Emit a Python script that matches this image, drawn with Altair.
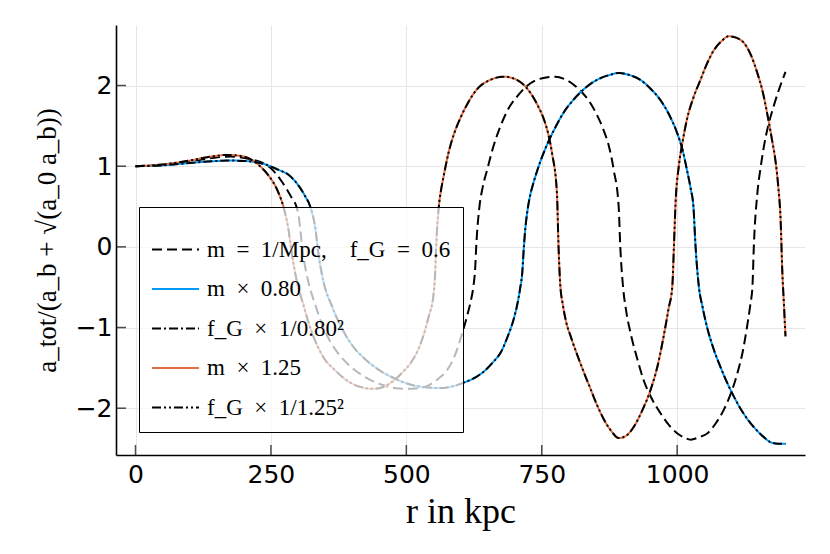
import altair as alt
import pandas as pd

# ---- data ----
r_A = [0, 50, 100, 140, 175, 210, 235, 249, 270, 289, 298, 302, 305, 307.5, 310, 319, 332, 345, 360, 379, 400, 428,
       455, 478, 502, 525, 540, 558, 576, 590, 600, 612, 618, 624, 627, 629, 635, 641, 649, 661, 674, 690, 704, 722, 741,
       758, 775, 792, 809, 825, 840, 853, 864, 875, 883, 892, 895, 900, 906, 914, 926, 938, 953, 969, 985,
       1000, 1012, 1025, 1040, 1056, 1071, 1086, 1099, 1111, 1121, 1129, 1135, 1139, 1141.5, 1148, 1154, 1160, 1168, 1178, 1188,
       1200]
y_A = [1.00, 1.02, 1.06, 1.10, 1.12, 1.09, 1.04, 0.98, 0.81, 0.60, 0.48, 0.34, 0.17, 0.0, -0.12, -0.43, -0.72, -0.97, -1.18, -1.36, -1.50, -1.63,
       -1.71, -1.75, -1.76, -1.75, -1.72, -1.64, -1.52, -1.34, -1.14, -0.86, -0.70, -0.48, -0.28, 0.0, 0.50, 0.74, 0.95, 1.25, 1.50, 1.73, 1.86, 1.99, 2.07,
       2.10, 2.11, 2.08, 2.01, 1.91, 1.78, 1.62, 1.45, 1.22, 0.95, 0.50, 0.0, -0.49, -0.80, -1.07, -1.38, -1.65, -1.88, -2.06, -2.21,
       -2.31, -2.36, -2.39, -2.36, -2.31, -2.19, -2.02, -1.82, -1.57, -1.30, -0.99, -0.72, -0.49, 0.0, 0.66, 0.98, 1.24, 1.50, 1.74, 1.95,
       2.17]

r_B = [0, 50, 100, 140, 175, 210, 245, 262, 283, 302, 313, 322.5, 332, 338, 347, 363, 378, 400, 422,
       446, 478, 509, 536, 563, 590, 607, 627, 644, 660, 675, 686, 698, 704, 710, 714, 717, 720, 723, 729,
       735, 747, 760, 775, 790, 808, 827, 842, 858, 875, 892, 912, 932, 951, 969, 985, 1000, 1010, 1018, 1025,
       1030, 1034, 1040, 1047, 1055, 1067, 1080, 1092, 1105, 1122, 1141, 1157, 1172, 1186, 1200]
y_B = [1.00, 1.01, 1.04, 1.06, 1.07, 1.06, 1.01, 0.96, 0.89, 0.75, 0.63, 0.50, 0.23, -0.10, -0.43, -0.74, -0.97, -1.22, -1.38,
       -1.51, -1.63, -1.71, -1.74, -1.75, -1.72, -1.68, -1.62, -1.54, -1.43, -1.30, -1.13, -0.90, -0.74, -0.52, -0.32, 0.0, 0.25, 0.42, 0.65,
       0.80, 1.05, 1.27, 1.48, 1.66, 1.82, 1.95, 2.03, 2.09, 2.13, 2.155, 2.13, 2.07, 1.96, 1.82, 1.64, 1.41, 1.20, 0.955, 0.72,
       0.50, 0.0, -0.49, -0.75, -0.99, -1.26, -1.49, -1.68, -1.86, -2.06, -2.23, -2.34, -2.42, -2.44, -2.44]

r_C = [0, 50, 100, 140, 170, 200, 221, 233, 245, 264, 273, 282, 289, 298, 310, 320, 336, 350, 367, 385,
       404, 424, 441, 460, 478, 495, 508, 522, 532, 541, 550, 553, 555, 560, 564, 569, 578, 588, 600, 615, 630, 655, 680,
       704, 729, 742, 754, 762, 769, 778, 781, 784, 789, 794, 805, 815, 828, 840, 852, 864, 878, 892, 906, 920,
       936, 951, 964, 975, 984, 991, 994, 997, 1003, 1010, 1018, 1030, 1043, 1055, 1068, 1082, 1095, 1110, 1123, 1136,
       1148, 1158, 1166, 1175, 1182, 1187, 1191, 1194, 1197, 1200]
y_C = [1.00, 1.02, 1.07, 1.12, 1.14, 1.12, 1.05, 0.98, 0.89, 0.67, 0.50, 0.23, -0.10, -0.43, -0.72, -0.95, -1.23, -1.40, -1.52, -1.63,
       -1.71, -1.75, -1.76, -1.73, -1.65, -1.54, -1.44, -1.27, -1.09, -0.87, -0.60, -0.35, 0.0, 0.50, 0.70, 0.88, 1.17, 1.40, 1.60, 1.80, 1.95, 2.07, 2.11,
       2.07, 1.91, 1.76, 1.58, 1.40, 1.16, 0.67, 0.0, -0.45, -0.72, -0.90, -1.14, -1.33, -1.56, -1.76, -1.96, -2.13, -2.28, -2.37, -2.34, -2.23,
       -2.02, -1.77, -1.47, -1.11, -0.77, -0.49, 0.0, 0.54, 1.00, 1.30, 1.58, 1.85, 2.07, 2.27, 2.44, 2.55, 2.61, 2.59, 2.53, 2.38,
       2.155, 1.92, 1.66, 1.33, 1.04, 0.72, 0.33, -0.29, -0.70, -1.11]

SP = "\u2002"  # en space (does not collapse in SVG)
labels = [f"m{SP}={SP}1/Mpc,{SP}{SP}f_G{SP}={SP}0.6", f"m{SP}\u00d7{SP}0.80", f"f_G{SP}\u00d7{SP}1/0.80\u00b2",
          f"m{SP}\u00d7{SP}1.25", f"f_G{SP}\u00d7{SP}1/1.25\u00b2"]
colors = ["black", "#009AFA", "black", "#E36F47", "black"]
dashes = [[10, 5], [1, 0], [9, 3, 2, 3], [1, 0], [9, 3, 2, 3, 2, 3]]

x_ticks = [0, 250, 500, 750, 1000]
y_ticks = [-2, -1, 0, 1, 2]
x_dom = [-36, 1236]
y_dom = [-2.58, 2.75]

# ---- long table ----
parts = []
for lab, rr, yy in [(labels[0], r_A, y_A), (labels[1], r_B, y_B), (labels[2], r_B, y_B),
                    (labels[3], r_C, y_C), (labels[4], r_C, y_C)]:
    assert len(rr) == len(yy)
    parts.append(pd.DataFrame({"r": rr, "y": yy, "s": lab}))
df = pd.concat(parts, ignore_index=True)

xscale = alt.Scale(domain=x_dom, nice=False, zero=False)
yscale = alt.Scale(domain=y_dom, nice=False, zero=False)

legend = alt.Legend(
    title=" ", titleFontSize=3, titlePadding=3,
    orient="none", legendX=23, legendY=182,
    symbolType="stroke", symbolSize=2209, symbolStrokeWidth=2,
    labelFont="Liberation Serif", labelFontSize=23, labelLimit=500,
    labelColor="black", labelOffset=7,
    padding=12, rowPadding=2.5,
    fillColor="rgba(255,255,255,0.72)", strokeColor="black",
)

xenc = alt.X("r:Q", scale=xscale,
             axis=alt.Axis(values=x_ticks, title="r in kpc", grid=True, ticks=False,
                           labelFlush=False, format="d"))
yenc = alt.Y("y:Q", scale=yscale,
             axis=alt.Axis(values=y_ticks, title="a_tot/(a_b + \u221a(a_0 a_b))", grid=True,
                           ticks=False, labelFlush=False, format="d"))
cenc = alt.Color("s:N", scale=alt.Scale(domain=labels, range=colors), legend=legend)
denc = alt.StrokeDash("s:N", scale=alt.Scale(domain=labels, range=dashes), legend=legend)

base = alt.Chart(df).mark_line(strokeWidth=2, interpolate="monotone").encode(
    x=xenc, y=yenc, color=cenc, strokeDash=denc, detail="s:N")

l1 = base.transform_filter(alt.FieldOneOfPredicate(field="s", oneOf=[labels[0]]))
l2 = base.transform_filter(alt.FieldOneOfPredicate(field="s", oneOf=[labels[1], labels[3]]))
l3 = base.transform_filter(alt.FieldOneOfPredicate(field="s", oneOf=[labels[2], labels[4]]))

xt = alt.Chart(pd.DataFrame({"t": x_ticks})).mark_tick(
    orient="vertical", size=20, thickness=1.5, color="black", clip=True).encode(
    x=alt.X("t:Q", scale=xscale), y=alt.datum(y_dom[0]))
yt = alt.Chart(pd.DataFrame({"t": y_ticks})).mark_tick(
    orient="horizontal", size=20, thickness=1.5, color="black", clip=True).encode(
    y=alt.Y("t:Q", scale=yscale), x=alt.datum(x_dom[0]))

chart = alt.layer(l1, l2, l3, xt, yt).properties(
    width=689, height=430,
    autosize=alt.AutoSizeParams(type="none"),
    padding={"left": 108, "top": 17, "right": 17, "bottom": 91},
).configure_view(stroke=None).configure_axis(
    domainColor="black", domainWidth=1.6,
    gridColor="#e6e6e6", gridWidth=1,
    labelFont="DejaVu Sans", labelFontSize=25, labelColor="black",
    titleFont="Liberation Serif", titleFontWeight="normal", titleColor="black",
).configure_axisX(labelPadding=7, titlePadding=7, titleFontSize=36).configure_axisY(
    labelPadding=4, titlePadding=14, titleFontSize=27)

chart.save("out.html", embed_options={"renderer": "svg", "actions": False})
